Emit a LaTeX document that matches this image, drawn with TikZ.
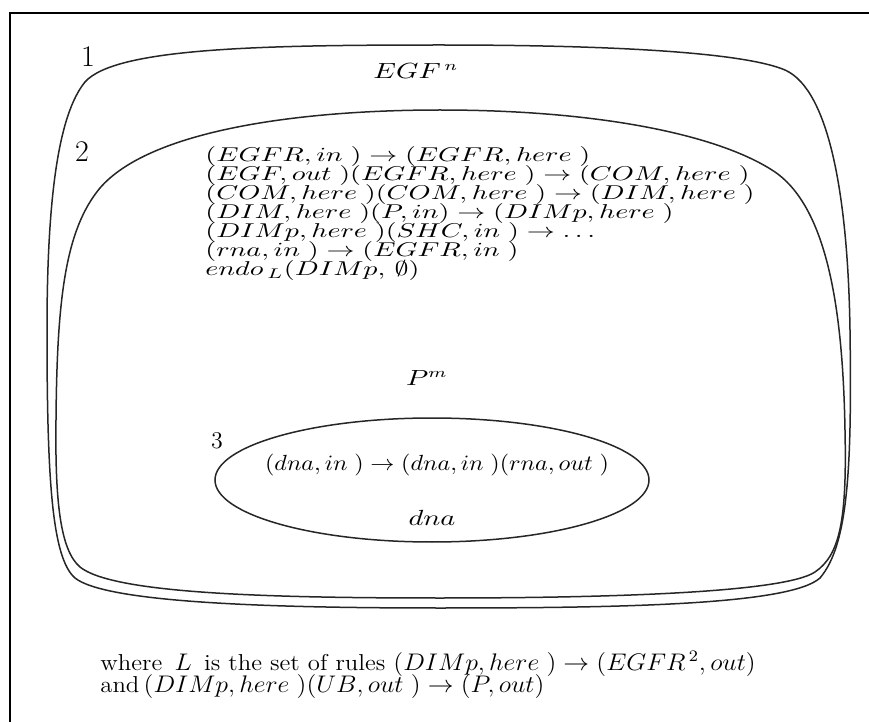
\documentclass[tikz,border=0pt]{standalone}
\usepackage{amssymb}
\usepackage{graphicx}
\tikzset{
  membrane/.style={line width=0.75pt, black!85},
  frameline/.style={line width=0.8pt},
  num/.style={inner sep=0pt, font=\fontsize{15}{15}\selectfont},
  numsmall/.style={inner sep=0pt, font=\fontsize{12}{12}\selectfont},
  mtext/.style={inner sep=0pt, font=\fontsize{10.5}{10.5}\selectfont},
  rtext/.style={inner sep=0pt, font=\fontsize{10.2}{10.2}\selectfont},
  btext/.style={inner sep=0pt, font=\fontsize{11.5}{11.5}\selectfont},
}
\newcommand{\xs}[2]{\scalebox{#1}[1]{#2}}
\begin{document}
\begin{tikzpicture}[x=0.5pt,y=-0.5pt]
\useasboundingbox (0,0) rectangle (869,722);
% frame
\draw[frameline] (10,722) -- (10,13) -- (869,13);
% membrane 1
\draw[membrane] (440,45) .. controls (620,45) and (745,53) .. (785,70)
  .. controls (830,90) and (848,200) .. (850,330)
  .. controls (852,470) and (848,545) .. (820,578)
  .. controls (790,605) and (620,608) .. (440,608)
  .. controls (260,608) and (105,602) .. (75,578)
  .. controls (52,558) and (47,480) .. (47,330)
  .. controls (47,200) and (58,115) .. (85,82)
  .. controls (115,48) and (260,45) .. (440,45) -- cycle;
% membrane 2
\draw[membrane] (440,110) .. controls (600,110) and (720,135) .. (775,172)
  .. controls (830,210) and (843,320) .. (845,430)
  .. controls (847,520) and (840,555) .. (815,572)
  .. controls (785,592) and (620,598) .. (440,598)
  .. controls (260,598) and (112,593) .. (80,567)
  .. controls (60,550) and (55,500) .. (56,420)
  .. controls (57,300) and (65,230) .. (100,188)
  .. controls (150,130) and (300,110) .. (440,110) -- cycle;
% membrane 3
\draw[membrane] (432,480) ellipse [x radius=217, y radius=62];
% labels
\node[num] (l1) at (88,57) {1};
\node[num] (l2) at (82,152) {2};
\node[numsmall] (l3) at (217,441) {3};
\node[mtext] (egf) at (416,71) {\xs{1.3}{$EGF^{\,n}$}};
\node[rtext, anchor=north west] (rules) at (205,146) {\xs{1.4}{\vbox{\baselineskip=9.55pt\lineskiplimit=-20pt
 \hbox{$(EGFR, in\;)\rightarrow(EGFR, here\;)$}
 \hbox{$(EGF, out\;)(EGFR, here\;)\rightarrow(COM, here\;)$}
 \hbox{$(COM, here\;)(COM, here\;)\rightarrow(DIM, here\;)$}
 \hbox{$(DIM, here\;)(P, in)\rightarrow(DIMp, here\;)$}
 \hbox{$(DIMp, here\;)(SHC, in\;)\rightarrow\ldots$}
 \hbox{$(rna, in\;)\rightarrow(EGFR, in\;)$}
 \hbox{$endo_{\,L}(DIMp,\,\emptyset)$}}}};
\node[mtext] (pm) at (427,378) {\xs{1.3}{$P^{m}$}};
\node[mtext] (dnarule) at (437,465) {\xs{1.1}{$(dna, in\;)\rightarrow(dna, in\;)(rna, out\;)$}};
\node[mtext] (dna) at (432,518) {\xs{1.3}{$dna$}};
\node[btext, anchor=north west] (note) at (100,651) {\xs{1.075}{\vbox{\baselineskip=11pt\lineskiplimit=-20pt
 \hbox{where $\,L\,$ is the set of rules $(DIMp, here\;)\rightarrow(EGFR^{\,2}, out)$}
 \hbox{and$\,(DIMp, here\;)(UB, out\;)\rightarrow(P, out)$}}}};
\end{tikzpicture}
\end{document}
